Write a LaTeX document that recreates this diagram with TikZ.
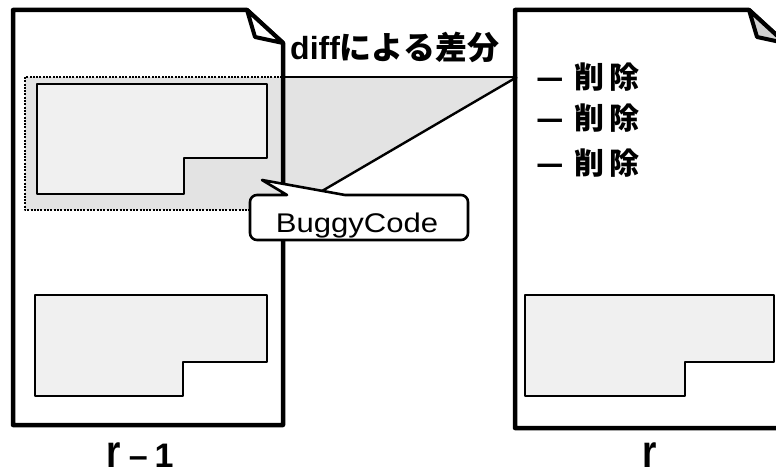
\documentclass[tikz,border=0pt]{standalone}
\usepackage{fontspec}
\setmainfont{Liberation Sans}
\newfontfamily\cjk{Noto Sans CJK JP}
\newfontfamily\wideSans[FakeStretch=1.15]{Liberation Sans}
\newfontfamily\narrowSans[FakeStretch=0.8]{Liberation Sans}
\usetikzlibrary{calc,positioning}

\begin{document}
\begin{tikzpicture}[x=1pt, y=-1pt, line join=round]

    \tikzstyle{pageline} = [draw=black, line width=4.5pt]
    \tikzstyle{flap} = [draw=black, line width=4pt]
    \tikzstyle{code} = [draw=black, line width=2.6pt, fill=black!6]
    \tikzstyle{diffline} = [draw=black, line width=2.4pt]
    \tikzstyle{lbl} = [inner sep=0pt, anchor=base]
    \tikzstyle{del} = [inner sep=0pt, anchor=west, font=\cjk\bfseries\fontsize{30}{32}\selectfont]

    \useasboundingbox (0,0) rectangle (776,476);

    \fill[white] (13,10) -- (247,10) -- (283,43) -- (283,425) -- (13,425) -- cycle;
    \fill[white] (515,10) -- (749,10) -- (785,43) -- (785,428) -- (515,428) -- cycle;

    \coordinate (gapL) at (283,77);
    \coordinate (gapR) at (517,77);
    \coordinate (ptr)  at (322,191);

    \fill[black!11] (25,77) rectangle (283,210);
    \fill[black!11] (gapL) -- (gapR) -- (ptr) -- (287,196) -- (283,196) -- cycle;
    \draw[line width=2.4pt, dash pattern=on 2pt off 1.3pt] (25,77) rectangle (283,210);

    \draw[code] (37,84) -- (267,84) -- (267,158) -- (184,158) -- (184,194) -- (37,194) -- cycle;
    \draw[code] (35,295) -- (267,295) -- (267,362) -- (183,362) -- (183,396) -- (35,396) -- cycle;
    \draw[code] (525,295) -- (774,295) -- (774,362) -- (685,362) -- (685,396) -- (525,396) -- cycle;

    \draw[pageline] (13,10) -- (247,10) -- (283,43) -- (283,425) -- (13,425) -- cycle;
    \draw[flap, fill=white] (247,10) -- (255,37) -- (283,43) -- cycle;
    \draw[pageline] (515,10) -- (749,10) -- (785,43) -- (785,428) -- (515,428) -- cycle;
    \draw[flap, fill=black!18] (749,10) -- (757,37) -- (785,43) -- cycle;

    \draw[diffline] (gapL) -- (gapR);
    \draw[diffline] (gapR) -- (ptr);

    \draw[line width=2.6pt, fill=white] (250,217) [rounded corners=7pt] -- (250,195) [sharp corners] -- (287,195) -- (262,180) -- (345,195) [rounded corners=7pt] -- (468,195) -- (468,240) -- (250,240) -- (250,217);

    \node (bug) [lbl] at (357,232) {\wideSans\fontsize{27}{29}\selectfont BuggyCode};

    \node (diff) [inner sep=0pt, anchor=west] at (290,47) {\fontsize{32}{34}\selectfont\bfseries diff\cjk による差分};

    \node (del1) [del] at (536,77)  {—\hspace{11pt}削\hspace{5pt}除};
    \node (del2) [del] at (536,118) {—\hspace{11pt}削\hspace{5pt}除};
    \node (del3) [del] at (536,163) {—\hspace{11pt}削\hspace{5pt}除};

    \node (prev) [lbl] at (140,467) {{\narrowSans\bfseries\fontsize{46}{46}\selectfont r}\hspace{8pt}{\bfseries\fontsize{34}{34}\selectfont --\hspace{7pt}1}};
    \node (cur)  [lbl] at (650,467) {\narrowSans\bfseries\fontsize{46}{46}\selectfont r};
\end{tikzpicture}
\end{document}
